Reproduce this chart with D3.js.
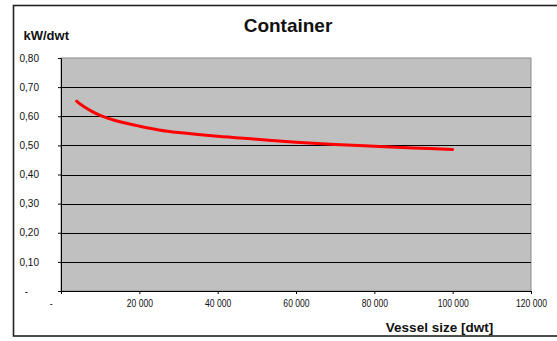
<!DOCTYPE html>
<html>
<head>
<meta charset="utf-8">
<script src="https://cdn.jsdelivr.net/npm/d3@7"></script>
<style>
  html, body { margin: 0; padding: 0; background: #fff; }
  svg { display: block; font-family: "Liberation Sans", Arial, sans-serif; }
</style>
</head>
<body>
<svg id="chart" width="557" height="341"></svg>
<script>
// Installed power per deadweight tonne for container vessels
const vesselSizes = [4000, 5000, 6000, 8000, 10000, 12500, 15000, 20000, 25000, 30000, 40000, 50000, 60000, 70000, 80000, 90000, 100000];
const kwPerDwt    = [0.652, 0.641, 0.632, 0.616, 0.603, 0.591, 0.581, 0.566, 0.553, 0.544, 0.531, 0.521, 0.511, 0.503, 0.497, 0.491, 0.486];
const yTicks = [0, 0.1, 0.2, 0.3, 0.4, 0.5, 0.6, 0.7, 0.8];
const xTicks = [0, 20000, 40000, 60000, 80000, 100000, 120000];
const titleText = "Container";
const yTitle = "kW/dwt";
const xTitle = "Vessel size [dwt]";

const svg = d3.select("#chart");
const plot = { left: 61, right: 531, top: 58, bottom: 291 };

const x = d3.scaleLinear().domain([0, 120000]).range([plot.left, plot.right]);
const y = d3.scaleLinear().domain([0, 0.8]).range([plot.bottom, plot.top]);

const locale = d3.formatLocale({ decimal: ",", thousands: " ", grouping: [3], currency: ["", ""] });
const fmtX = locale.format(",.0f");
const fmtY = locale.format(".2f");

// Outer chart frame (runs past the right edge)
svg.append("rect")
  .attr("x", 13.5).attr("y", 5.5)
  .attr("width", 600).attr("height", 330.5)
  .attr("fill", "#fff").attr("stroke", "#222").attr("stroke-width", 1.6);

// Plot area
svg.append("rect")
  .attr("x", plot.left).attr("y", plot.top)
  .attr("width", plot.right - plot.left).attr("height", plot.bottom - plot.top)
  .attr("fill", "#c0c0c0").attr("stroke", "#8a8a8a").attr("stroke-width", 1);

// Horizontal gridlines
svg.append("g")
  .selectAll("line")
  .data(yTicks.filter(v => v > 0 && v < 0.8))
  .join("line")
  .attr("x1", plot.left).attr("x2", plot.right)
  .attr("y1", d => Math.round(y(d)) + 0.5).attr("y2", d => Math.round(y(d)) + 0.5)
  .attr("stroke", "#000").attr("stroke-width", 1);

// Y axis
const yAxis = svg.append("g")
  .attr("transform", `translate(${plot.left},0)`)
  .call(d3.axisLeft(y).tickValues(yTicks).tickSize(3).tickPadding(19)
    .tickFormat(d => d === 0 ? "-" : fmtY(d)));
yAxis.select(".domain").attr("stroke", "#000");
yAxis.selectAll(".tick line").attr("stroke", "#000");
yAxis.selectAll(".tick text")
  .attr("font-size", 10).attr("fill", "#111")
  .attr("font-family", "'Liberation Sans', Arial, sans-serif");
yAxis.selectAll(".tick text").filter(d => d === 0).attr("dx", -11);

// X axis
const xAxis = svg.append("g")
  .attr("transform", `translate(0,${plot.bottom})`)
  .call(d3.axisBottom(x).tickValues(xTicks).tickSize(3).tickPadding(6)
    .tickFormat(d => d === 0 ? "-" : fmtX(d)));
xAxis.select(".domain").attr("stroke", "#000");
xAxis.selectAll(".tick line").attr("stroke", "#000");
xAxis.selectAll(".tick text")
  .attr("font-size", 10).attr("fill", "#111")
  .attr("font-family", "'Liberation Sans', Arial, sans-serif")
  .attr("transform", "scale(0.86,1)");
xAxis.selectAll(".tick text").filter(d => d === 0).attr("x", -12);

// Power curve
const line = d3.line()
  .x((d, i) => x(vesselSizes[i]))
  .y(d => y(d))
  .curve(d3.curveCatmullRom.alpha(0.5));
svg.append("path")
  .datum(kwPerDwt)
  .attr("d", line)
  .attr("fill", "none")
  .attr("stroke", "#ff0000")
  .attr("stroke-width", 3)
  .attr("stroke-linecap", "round");

// Titles
svg.append("text")
  .attr("x", 288).attr("y", 32)
  .attr("text-anchor", "middle")
  .attr("font-size", 19).attr("font-weight", "bold").attr("fill", "#111")
  .text(titleText);

svg.append("text")
  .attr("x", 23.5).attr("y", 40)
  .attr("font-size", 13).attr("font-weight", "bold").attr("fill", "#111")
  .text(yTitle);

svg.append("text")
  .attr("x", 439.5).attr("y", 332)
  .attr("text-anchor", "middle")
  .attr("font-size", 13.5).attr("font-weight", "bold").attr("fill", "#111")
  .text(xTitle);
</script>
</body>
</html>
